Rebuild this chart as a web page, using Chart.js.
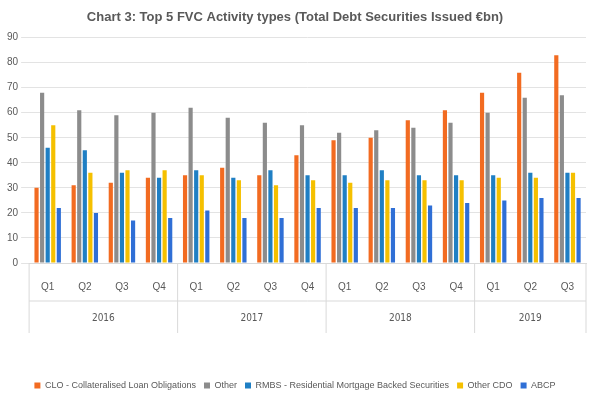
<!DOCTYPE html>
<html><head><meta charset="utf-8">
<script src="https://cdn.jsdelivr.net/npm/chart.js"></script>
<style>body{margin:0;background:#fff}#c{width:600px;height:400px}</style>
</head><body><div id="c"><canvas id="chart"></canvas></div>
<script>
var quarters = ["Q1","Q2","Q3","Q4","Q1","Q2","Q3","Q4","Q1","Q2","Q3","Q4","Q1","Q2","Q3"];
var years = ["2016","2017","2018","2019"];
var yearCounts = [4,4,4,3];
var clo   = [30,31,32,34,35,38,35,43,49,50,57,61,68,76,83];
var other = [68,61,59,60,62,58,56,55,52,53,54,56,60,66,67];
var rmbs  = [46,45,36,34,37,34,37,35,35,37,35,35,35,36,36];
var cdo   = [55,36,37,37,35,33,31,33,32,33,33,33,34,34,36];
var abcp  = [22,20,17,18,21,18,18,22,22,22,23,24,25,26,26];

var yearPlugin = {
  id: "years",
  afterDraw: function(chart){
    var x = chart.scales.x, c = chart.ctx, top = x.top;
    c.save();
    c.font = "10px 'Liberation Sans Narrow', 'DejaVu Sans Condensed', sans-serif";
    c.fillStyle = "#595959"; c.textAlign = "center"; c.textBaseline = "middle";
    c.strokeStyle = "#d9d9d9"; c.lineWidth = 1;
    var start = 0, w = x.width / quarters.length;
    for (var i = 0; i < years.length; i++) {
      var a = x.getPixelForValue(start) - w/2;
      var b = x.getPixelForValue(start + yearCounts[i] - 1) + w/2;
      c.fillText(years[i], (a+b)/2, top + 55);
      c.beginPath(); c.moveTo(a, top); c.lineTo(a, top + 70); c.stroke();
      if (i == years.length-1) { c.beginPath(); c.moveTo(b, top); c.lineTo(b, top + 70); c.stroke(); }
      start += yearCounts[i];
    }
    c.beginPath(); c.moveTo(x.left, top + 38); c.lineTo(x.right, top + 38); c.stroke();
    c.restore();
  }
};

new Chart(document.getElementById("chart"), {
  type: "bar",
  data: {
    labels: quarters,
    datasets: [
      {label: "CLO - Collateralised Loan Obligations", data: clo, backgroundColor: "#f26b21"},
      {label: "Other", data: other, backgroundColor: "#8c8c8c"},
      {label: "RMBS - Residential Mortgage Backed Securities", data: rmbs, backgroundColor: "#1f7fc4"},
      {label: "Other CDO", data: cdo, backgroundColor: "#f5c000"},
      {label: "ABCP", data: abcp, backgroundColor: "#2f6fd6"}
    ]
  },
  options: {
    animation: false, responsive: true, maintainAspectRatio: false,
    layout: {padding: {left: 4, right: 14, top: 4, bottom: 0}},
    datasets: {bar: {barPercentage: 0.75, categoryPercentage: 0.75}},
    plugins: {
      title: {display: true, text: "Chart 3: Top 5 FVC Activity types (Total Debt Securities Issued €bn)",
        color: "#595959", font: {size: 13, weight: "bold", family: "'Liberation Sans Narrow', sans-serif"}, padding: {top: 6, bottom: 12}},
      legend: {position: "bottom", labels: {boxWidth: 6, boxHeight: 6, padding: 8, color: "#595959",
        font: {size: 9, family: "'Liberation Sans Narrow', sans-serif"}}}
    },
    scales: {
      x: {grid: {display: false}, border: {color: "#d9d9d9"},
        ticks: {color: "#595959", font: {size: 10}, padding: 10},
        afterFit: function(s){ s.height += 70; }},
      y: {min: 0, max: 90, ticks: {stepSize: 10, color: "#595959", font: {size: 10}},
        grid: {color: "#e3e3e3"}, border: {display: false}}
    }
  },
  plugins: [yearPlugin]
});
</script></body></html>
